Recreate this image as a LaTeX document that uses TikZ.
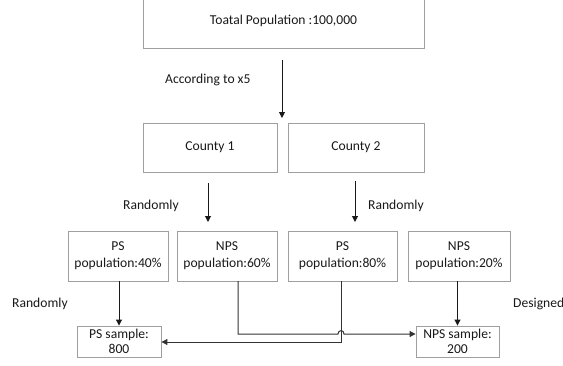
\documentclass[tikz,border=0pt]{standalone}
\usepackage{fontspec}
\setmainfont{Carlito}
\usetikzlibrary{arrows.meta}
\begin{document}
\begin{tikzpicture}[x=1pt,y=-1pt,
  box/.style={draw=gray!75,line width=0.9pt,inner sep=0pt,align=center,
    font=\fontsize{13.6}{17}\selectfont,text=black!90},
  lbl/.style={inner sep=0pt,anchor=west,font=\fontsize{13.6}{17}\selectfont,text=black!90},
  arr/.style={draw=black!90,line width=1pt,-{Triangle[width=6pt,length=6pt]}},
  wire/.style={draw=black!80,line width=1pt,-{Triangle[width=6pt,length=6pt]}}]
\useasboundingbox (0,0) rectangle (563,365);
\clip (0,0) rectangle (563,365);
% boxes
\node[box,minimum width=281pt,minimum height=55pt] (top) at (283.5,20.5) {Toatal Population :100,000};
\node[box,minimum width=134pt,minimum height=49pt] (c1) at (210,147.5) {County 1};
\node[box,minimum width=136pt,minimum height=49pt] (c2) at (356,147.5) {County 2};
\node[box,minimum width=100pt,minimum height=50pt] (p1) at (118,256) {PS\\population:40\%};
\node[box,minimum width=100pt,minimum height=50pt] (n1) at (227,256) {NPS\\population:60\%};
\node[box,minimum width=109pt,minimum height=50pt] (p2) at (342.5,256) {PS\\population:80\%};
\node[box,minimum width=102pt,minimum height=50pt] (n2) at (459,256) {NPS\\population:20\%};
\node[box,minimum width=84pt,minimum height=31pt,font=\fontsize{13.6}{15.5}\selectfont] (ps) at (119,341.5) {PS sample:\\800};
\node[box,minimum width=83pt,minimum height=31pt,font=\fontsize{13.6}{15.5}\selectfont] (nps) at (457.5,341.5) {NPS sample:\\200};
% labels
\node[lbl] (l1) at (165,80) {According to x5};
\node[lbl] (l2) at (123,206) {Randomly};
\node[lbl] (l3) at (368,206) {Randomly};
\node[lbl] (l4) at (12,304) {Randomly};
\node[lbl] (l5) at (513,304) {Designed};
% free ends
\coordinate (a0s) at (282,60);
\coordinate (a0e) at (282,118);
\coordinate (a1s) at (208,183);
\coordinate (a1e) at (208,222);
\coordinate (a2s) at (355,181);
\coordinate (a2e) at (355,222);
\coordinate (n1b) at (238,281);
\coordinate (n1c) at (238,334);
\coordinate (hop1) at (338,334);
\coordinate (hop2) at (344,334);
\coordinate (p2b) at (341,281);
\coordinate (p2c) at (341,342);
% connectors
\draw[arr] (a0s) -- (a0e);
\draw[arr] (a1s) -- (a1e);
\draw[arr] (a2s) -- (a2e);
\draw[arr] (p1.south -| ps.north) -- (ps.north);
\draw[arr] (n2.south -| nps.north) -- (nps.north);
\draw[wire] (n1b) -- (n1c) -- (hop1) .. controls (338,329.5) and (344,329.5) .. (hop2) -- (n1c -| nps.west);
\draw[wire] (p2b) -- (p2c) -- (p2c -| ps.east);
\end{tikzpicture}
\end{document}
